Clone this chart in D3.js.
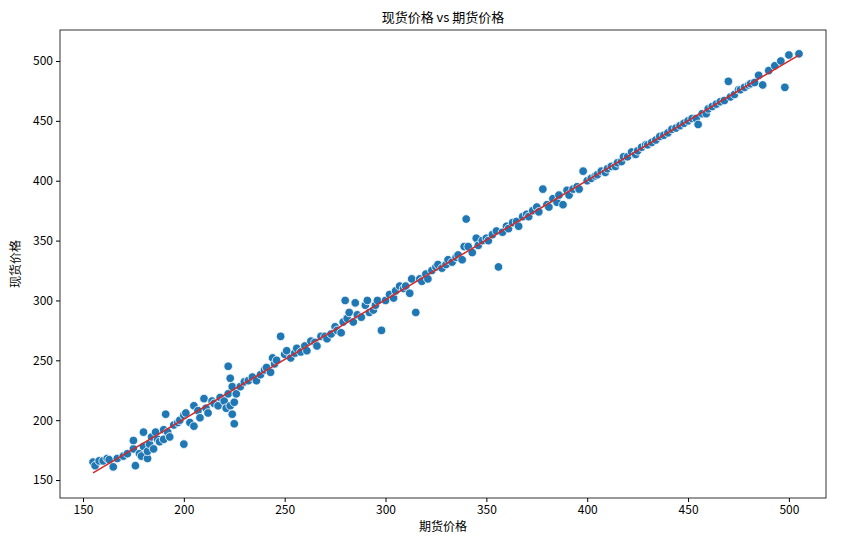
<!DOCTYPE html>
<html><head><meta charset="utf-8">
<script src="https://cdn.jsdelivr.net/npm/d3@7"></script>
<style>body{margin:0;background:#fff}text{font-family:"Noto Sans CJK SC","DejaVu Sans",sans-serif}</style>
</head><body><svg id="c" width="843" height="544"></svg>
<script>
const title = "现货价格 vs 期货价格";
const xLabel = "期货价格";
const yLabel = "现货价格";
const xTicks = [150,200,250,300,350,400,450,500];
const yTicks = [150,200,250,300,350,400,450,500];
const futures = [155,156,158,160,162,163,165,167,170,172,175,175,176,178,179,180,180,182,182,183,184,185,186,187,188,190,190,191,192,193,195,197,198,200,200,201,203,205,205,207,208,210,211,212,214,215,217,218,220,221,222,222,223,223,224,224,225,225,226,228,230,232,234,236,238,240,241,243,244,245,246,248,250,251,253,255,256,258,260,261,263,265,266,268,270,271,273,275,276,278,279,280,281,282,284,285,286,288,290,291,292,294,295,296,298,300,302,304,305,307,309,310,312,313,315,317,318,320,321,323,325,326,328,330,331,333,335,336,338,339,340,341,343,345,346,348,350,351,353,355,356,358,360,361,363,365,366,368,370,371,373,375,376,378,380,381,383,385,386,388,390,391,393,395,396,398,400,402,404,405,407,409,410,412,414,415,417,418,420,422,424,425,427,429,430,432,434,436,438,440,442,444,446,448,450,452,454,455,457,459,460,462,464,466,468,470,471,473,475,476,478,480,481,483,485,487,490,493,496,498,500,505];
const spot =    [165,162,166,166,168,167,161,168,170,172,176,183,162,172,170,178,190,168,174,180,186,176,190,184,182,192,184,205,190,186,196,198,200,180,204,206,198,195,212,208,202,218,210,206,216,214,212,219,216,210,222,245,235,212,228,205,197,215,222,228,232,233,236,233,238,242,244,240,252,247,250,270,255,258,252,256,260,257,262,258,266,265,262,270,270,268,272,278,275,273,282,300,285,290,282,298,288,286,296,300,290,292,296,300,275,300,305,302,308,312,310,312,306,318,290,318,316,322,318,325,328,330,327,330,334,332,336,338,334,345,368,345,340,352,346,350,352,350,355,358,328,357,362,360,365,366,362,370,372,370,375,378,374,393,380,378,385,382,388,380,392,388,393,395,393,408,400,402,404,405,408,407,410,412,412,415,416,420,420,424,422,425,428,430,430,432,434,437,438,440,443,444,446,448,450,452,452,447,456,456,460,462,464,466,467,483,470,472,476,476,478,480,481,482,488,480,492,496,500,478,505,506];
const lineX = [155,505];
const lineY = [156,505];

const svg = d3.select("#c");
const m = {l:60,r:17,t:30,b:46};
const W=843,H=544;
const x = d3.scaleLinear().domain([138.6,518.4]).range([m.l,W-m.r]);
const y = d3.scaleLinear().domain([135,525.9]).range([H-m.b,m.t]);
svg.append("rect").attr("x",m.l).attr("y",m.t).attr("width",W-m.l-m.r).attr("height",H-m.t-m.b).attr("fill","none").attr("stroke","#000").attr("stroke-width",0.8);
const gx = svg.append("g").attr("transform",`translate(0,${H-m.b})`).call(d3.axisBottom(x).tickValues(xTicks).tickSize(4).tickPadding(3));
const gy = svg.append("g").attr("transform",`translate(${m.l},0)`).call(d3.axisLeft(y).tickValues(yTicks).tickSize(4).tickPadding(3));
[gx,gy].forEach(g=>{g.select(".domain").remove();g.selectAll("text").attr("font-size",12).attr("fill","#000");});
svg.append("g").selectAll("circle").data(futures).join("circle")
  .attr("cx",(d)=>x(d)).attr("cy",(d,i)=>y(spot[i])).attr("r",4.3)
  .attr("fill","#1f77b4").attr("stroke","#fff").attr("stroke-width",0.8);
svg.append("path").datum(lineX.map((d,i)=>[d,lineY[i]])).attr("d",d3.line().x(d=>x(d[0])).y(d=>y(d[1])))
  .attr("stroke","#d62728").attr("stroke-width",1.5).attr("fill","none");
svg.append("text").attr("x",(m.l+W-m.r)/2).attr("y",22).attr("text-anchor","middle").attr("font-size",13).text(title);
svg.append("text").attr("x",(m.l+W-m.r)/2).attr("y",531).attr("text-anchor","middle").attr("font-size",12).text(xLabel);
svg.append("text").attr("transform",`translate(20,${(m.t+H-m.b)/2}) rotate(-90)`).attr("text-anchor","middle").attr("font-size",12).text(yLabel);
</script></body></html>
